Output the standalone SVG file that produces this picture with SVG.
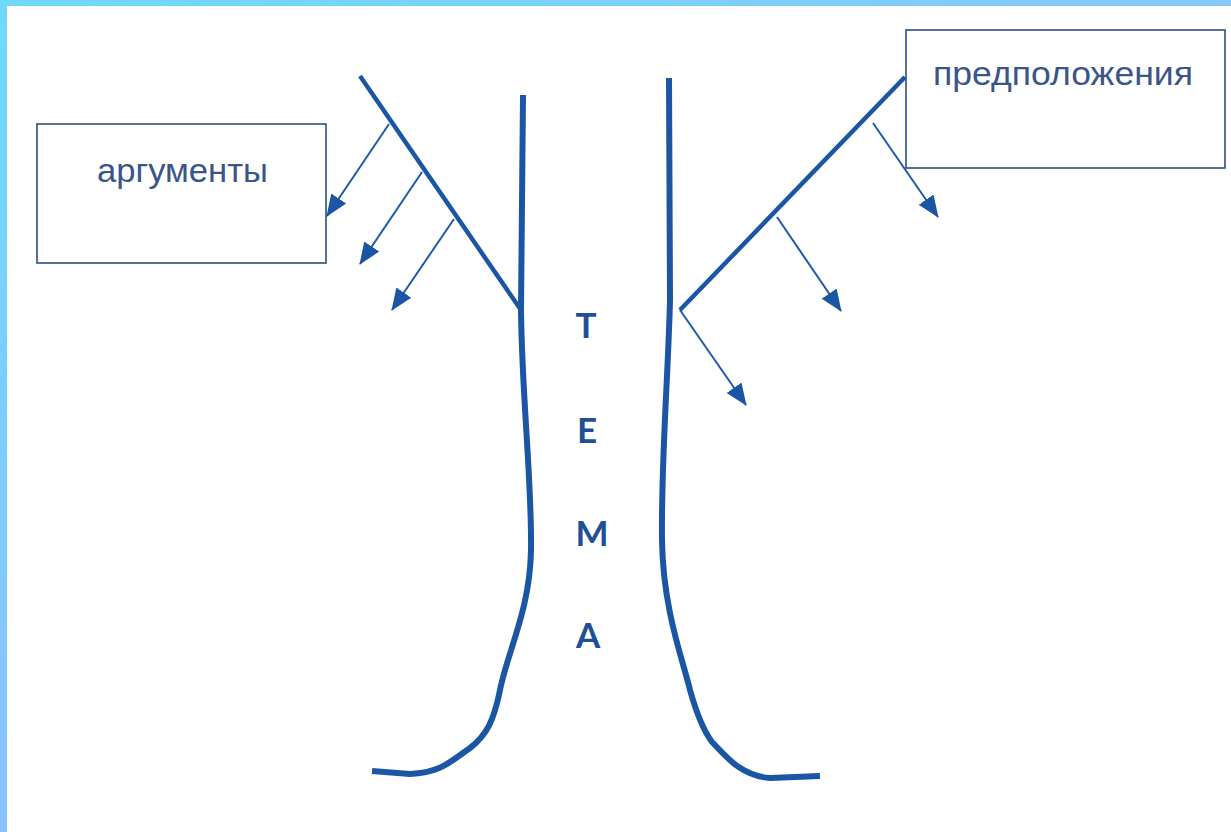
<svg xmlns="http://www.w3.org/2000/svg" width="1231" height="832" viewBox="0 0 1231 832">
  <defs>
    <linearGradient id="gTop" x1="0" y1="0" x2="1" y2="0">
      <stop offset="0" stop-color="#6fd9f9"/>
      <stop offset="1" stop-color="#86c8fb"/>
    </linearGradient>
    <linearGradient id="gLeft" x1="0" y1="0" x2="0" y2="1">
      <stop offset="0" stop-color="#6fd9fa"/>
      <stop offset="1" stop-color="#88c2ff"/>
    </linearGradient>
    <marker id="arr" markerUnits="userSpaceOnUse" markerWidth="24" markerHeight="20" refX="21" refY="9" orient="auto" viewBox="0 0 24 18">
      <path d="M0,0 L22,9 L0,18 Z" fill="#1a56a4"/>
    </marker>
    <style>
      .box { fill: #ffffff; stroke: #2b4f7c; stroke-width: 1.6; }
      .lbl { font-family: "Liberation Sans", Arial, sans-serif; font-size: 34px; fill: #3a5588; }
      .trunk { fill: none; stroke: #1a56a4; stroke-width: 6; stroke-linecap: butt; stroke-linejoin: round; }
      .branch { fill: none; stroke: #1a56a4; stroke-width: 4.5; stroke-linecap: butt; stroke-linejoin: miter; }
      .arrow { fill: none; stroke: #1f5aa6; stroke-width: 2; marker-end: url(#arr); }
      .tema { font-family: Lato, "Open Sans", sans-serif; font-weight: bold; font-size: 35px; fill: #1f4f94; text-anchor: middle; }
    </style>
  </defs>

  <rect x="0" y="0" width="1231" height="832" fill="#ffffff"/>
  <rect x="0" y="0" width="1231" height="6" fill="url(#gTop)"/>
  <rect x="0" y="0" width="7" height="832" fill="url(#gLeft)"/>

  <g id="trunk">
    <path class="trunk" d="M523,95 L521,310 C522,400 532,480 531,550 C530,610 508,650 500,690 C494,720 487,735 470,748 C450,762 440,773 410,774 L372,771"/>
    <path class="trunk" d="M669,78 L670,300 C668,380 661,460 662,540 C663,610 683,660 690,690 C697,715 703,730 712,742 C725,755 740,776 770,778 L820,776"/>
  </g>

  <g id="tema">
    <text class="tema" x="586" y="338">Т</text>
    <text class="tema" x="587" y="443">Е</text>
    <text class="tema" x="592" y="546">М</text>
    <text class="tema" x="588" y="648">А</text>
  </g>

  <g id="node-argumenty">
    <rect class="box" x="37" y="124" width="289" height="139"/>
    <text class="lbl" x="97" y="182" textLength="171" lengthAdjust="spacingAndGlyphs">аргументы</text>
  </g>

  <g id="node-predpolozheniya">
    <rect class="box" x="906" y="30" width="319" height="138"/>
    <text class="lbl" x="933" y="85" textLength="260" lengthAdjust="spacingAndGlyphs">предположения</text>
  </g>

  <g id="connectors">
    <path class="branch" d="M360,76 L521,310"/>
    <path class="branch" d="M905,77 L680,310"/>
    <path class="arrow" d="M389,124 L327,216"/>
    <path class="arrow" d="M422,172 L360,264"/>
    <path class="arrow" d="M454,219 L392,310"/>
    <path class="arrow" d="M873,123 L938,217"/>
    <path class="arrow" d="M777,217 L841,311"/>
    <path class="arrow" d="M680,310 L746,405"/>
  </g>
</svg>
